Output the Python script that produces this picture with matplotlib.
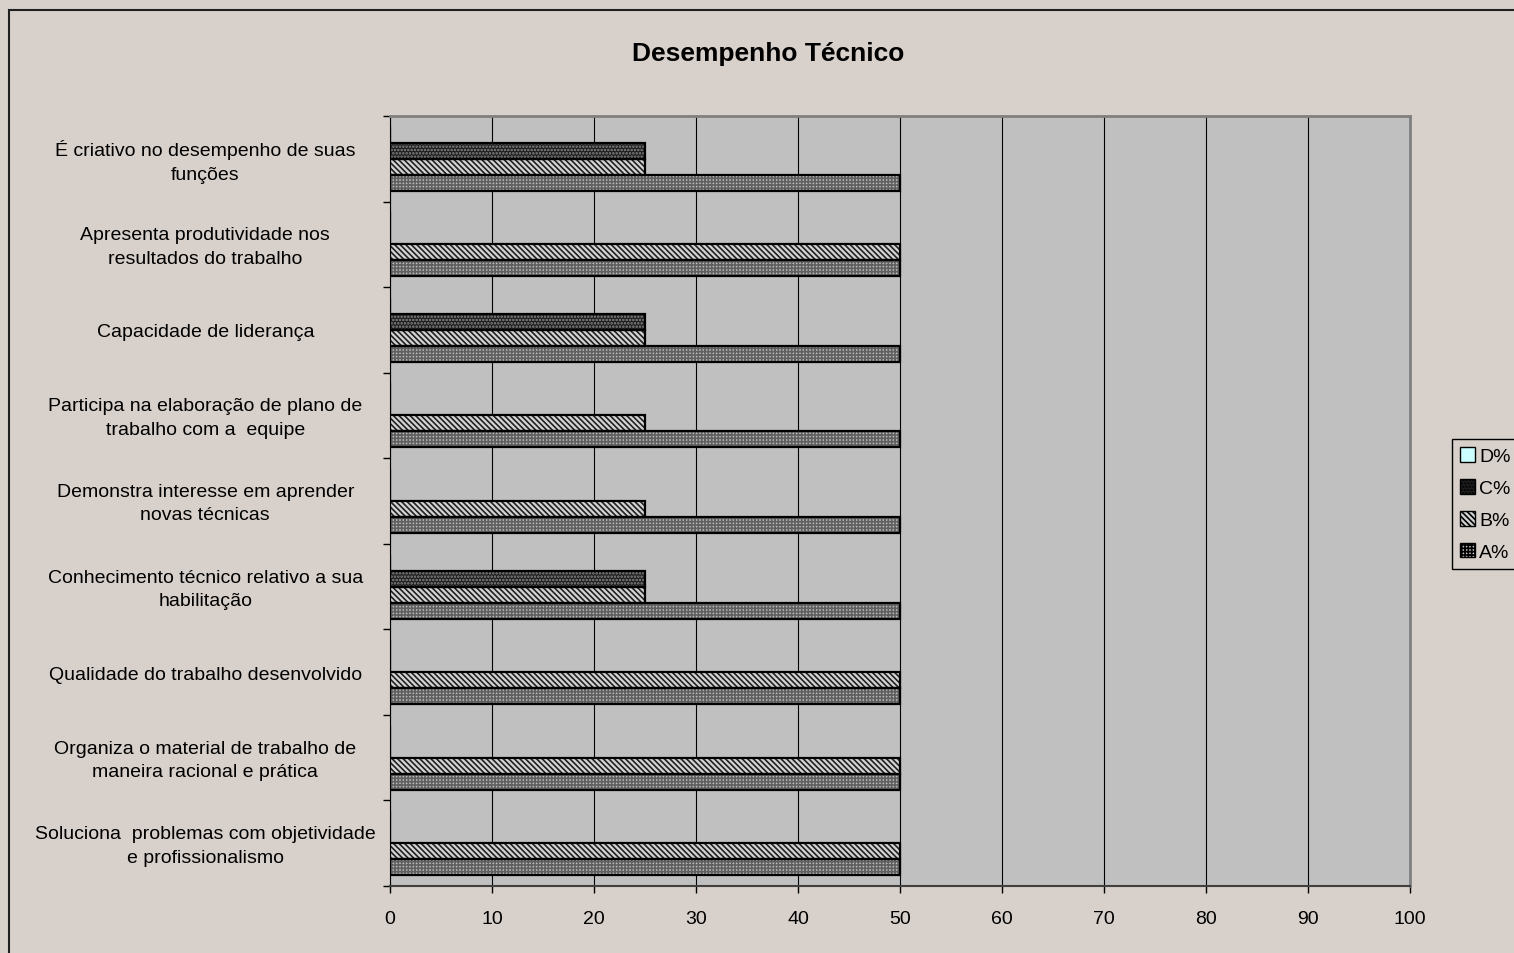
import matplotlib
matplotlib.use("Agg")
import matplotlib.pyplot as plt
import matplotlib.transforms as mtransforms
import numpy as np
from matplotlib.patches import Rectangle, Patch

plt.rcParams['font.family'] = ['Liberation Sans', 'DejaVu Sans']
plt.rcParams['hatch.linewidth'] = 1.2

categories = [
    "Soluciona  problemas com objetividade\ne profissionalismo",
    "Organiza o material de trabalho de\nmaneira racional e prática",
    "Qualidade do trabalho desenvolvido",
    "Conhecimento técnico relativo a sua\nhabilitação",
    "Demonstra interesse em aprender\nnovas técnicas",
    "Participa na elaboração de plano de\ntrabalho com a  equipe",
    "Capacidade de liderança",
    "Apresenta produtividade nos\nresultados do trabalho",
    "É criativo no desempenho de suas\nfunções",
]
a_pct = [50, 50, 50, 50, 50, 50, 50, 50, 50]
b_pct = [50, 50, 50, 25, 25, 25, 25, 50, 25]
c_pct = [0, 0, 0, 25, 0, 0, 25, 0, 25]
d_pct = [0, 0, 0, 0, 0, 0, 0, 0, 0]

series = [
    ("A%", a_pct, "#bababa", "#606060", "+++++"),
    ("B%", b_pct, "#d4d4d4", "#202020", "\\\\\\\\\\\\"),
    ("C%", c_pct, "#1e1e1e", "#8a8a8a", "....."),
    ("D%", d_pct, "#ccffff", "#000000", ""),
]

bg = "#d8d0ca"
fig = plt.figure(figsize=(15.14, 9.54), dpi=100, facecolor=bg)
W, H = 1514, 954

# outer chart frame
fig.patches.append(Rectangle((8.5 / W, -0.1), 1.2, 1 - 10.5 / H + 0.1,
                             transform=fig.transFigure, fill=False,
                             edgecolor="#202020", linewidth=1.5))

ax = fig.add_axes([390 / W, 1 - 887 / H, 1020 / W, 770 / H])
ax.set_facecolor("#c0c0c0")

n = len(categories)
y = np.arange(n)
bh = 0.187
offsets = [-1.5 * bh, -0.5 * bh, 0.5 * bh, 1.5 * bh]
for (name, vals, fc, hc, hatch), off in zip(series, offsets):
    ax.barh(y + off, vals, height=bh, color=fc, edgecolor=hc, hatch=hatch,
            linewidth=0, zorder=3)
    ax.barh(y + off, vals, height=bh, fill=False, edgecolor="black",
            linewidth=1.6, zorder=4)

ax.set_xlim(0, 100)
ax.set_ylim(-0.5, n - 0.5)
ax.set_xticks(np.arange(0, 101, 10))
ax.xaxis.grid(True, color="#000000", linewidth=0.8, zorder=1)
ax.set_axisbelow(True)
ax.set_yticks(y)
ax.set_yticklabels(categories, ha="center", multialignment="center",
                   linespacing=1.5)
ax.tick_params(axis="y", length=0, pad=133, labelsize=14)
ax.set_yticks(np.arange(-0.5, n, 1.0), minor=True)
ax.tick_params(axis="y", which="minor", length=5, width=1)
ax.tick_params(axis="x", length=5, width=1, labelsize=14, pad=12)

# nudge two-line category labels slightly upward
shift = mtransforms.ScaledTranslation(0, 3 / 100, fig.dpi_scale_trans)
for lbl, text in zip(ax.get_yticklabels(), categories):
    if "\n" in text:
        lbl.set_transform(lbl.get_transform() + shift)

for s in ["top", "right"]:
    ax.spines[s].set_color("#808080")
    ax.spines[s].set_linewidth(2)
ax.spines["left"].set_color("black")
ax.spines["bottom"].set_color("#404040")
ax.spines["bottom"].set_linewidth(1.5)

fig.text(768 / W, 1 - 54 / H, "Desempenho Técnico", ha="center", va="center",
         fontsize=19, fontweight="bold")

handles = [Patch(facecolor=fc, edgecolor="black", hatch=hatch, label=name)
           for (name, vals, fc, hc, hatch) in series[::-1]]
leg = fig.legend(handles=handles, loc="center left",
                 bbox_to_anchor=(1452 / W, 1 - 505 / H), fontsize=14,
                 frameon=True, fancybox=False, edgecolor="black",
                 facecolor=bg, framealpha=1, handlelength=0.8,
                 handleheight=0.8, handletextpad=0.2, borderpad=0.4,
                 labelspacing=0.7, borderaxespad=0)
leg.get_frame().set_linewidth(1)

fig.savefig("out.png", dpi=100, facecolor=bg)
